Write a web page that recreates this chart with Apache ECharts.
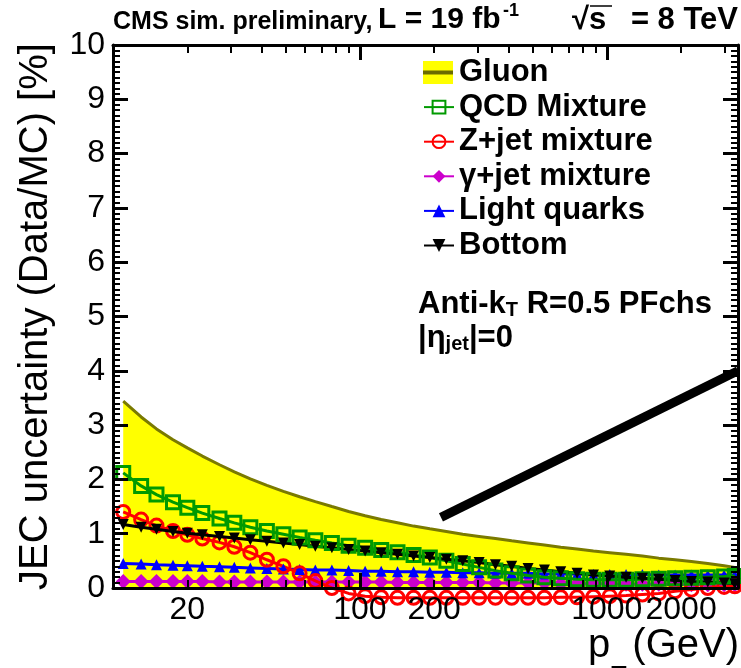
<!DOCTYPE html>
<html>
<head>
<meta charset="utf-8">
<script src="https://cdn.jsdelivr.net/npm/echarts@6/dist/echarts.min.js"></script>
<style>
  html, body { margin: 0; padding: 0; background: #fff; }
  #chart { width: 741px; height: 668px; }
</style>
</head>
<body>
<div id="chart"></div>
<script>
// Jet p_T bin centres (GeV)
const pT = [11, 13, 15, 17.5, 20, 23, 27, 31, 36, 42, 49, 57, 66, 77, 90, 105, 122, 142, 165, 192,
            224, 261, 304, 354, 412, 480, 559, 651, 758, 883, 1028, 1197, 1394, 1624, 1891, 2202, 2565, 2987, 3300];

// JEC uncertainty (Data/MC) in %, per flavour mixture
const gluon = [3.44, 3.15, 2.93, 2.73, 2.58, 2.43, 2.27, 2.14, 2.01, 1.89, 1.78, 1.68, 1.59, 1.50, 1.41, 1.33, 1.26, 1.20, 1.14, 1.09,
               1.04, 0.99, 0.95, 0.91, 0.87, 0.83, 0.79, 0.75, 0.72, 0.68, 0.65, 0.62, 0.59, 0.55, 0.52, 0.49, 0.45, 0.41, 0.38];
const qcdMixture = [2.12, 1.88, 1.72, 1.58, 1.48, 1.38, 1.28, 1.20, 1.12, 1.05, 0.99, 0.93, 0.88, 0.83, 0.78, 0.74, 0.70, 0.66, 0.61, 0.56,
                    0.50, 0.44, 0.38, 0.32, 0.27, 0.23, 0.20, 0.18, 0.16, 0.15, 0.15, 0.15, 0.16, 0.17, 0.18, 0.19, 0.20, 0.21, 0.22];
const zjetMixture = [1.40, 1.26, 1.15, 1.05, 0.98, 0.91, 0.84, 0.76, 0.65, 0.52, 0.40, 0.27, 0.13, 0.00, -0.10, -0.15, -0.17, -0.18, -0.18, -0.18,
                     -0.18, -0.18, -0.18, -0.18, -0.18, -0.18, -0.18, -0.17, -0.17, -0.16, -0.15, -0.14, -0.12, -0.10, -0.06, -0.03, 0.00, 0.02, 0.03];
const gammajetMixture = [0.12, 0.12, 0.12, 0.12, 0.12, 0.12, 0.11, 0.11, 0.11, 0.11, 0.11, 0.11, 0.11, 0.11, 0.11, 0.11, 0.11, 0.10, 0.10, 0.10,
                         0.10, 0.10, 0.10, 0.09, 0.09, 0.09, 0.09, 0.08, 0.08, 0.08, 0.08, 0.07, 0.07, 0.07, 0.07, 0.06, 0.06, 0.06, 0.06];
const lightQuarks = [0.45, 0.44, 0.43, 0.42, 0.41, 0.40, 0.39, 0.38, 0.37, 0.36, 0.35, 0.34, 0.33, 0.33, 0.32, 0.31, 0.31, 0.30, 0.30, 0.29,
                     0.29, 0.28, 0.28, 0.27, 0.27, 0.27, 0.26, 0.26, 0.26, 0.25, 0.25, 0.25, 0.25, 0.24, 0.24, 0.24, 0.24, 0.24, 0.24];
const bottom = [1.17, 1.12, 1.08, 1.04, 1.01, 0.98, 0.95, 0.92, 0.89, 0.86, 0.83, 0.80, 0.77, 0.74, 0.71, 0.68, 0.65, 0.62, 0.59, 0.56,
                0.53, 0.50, 0.47, 0.43, 0.40, 0.36, 0.33, 0.30, 0.27, 0.24, 0.22, 0.20, 0.18, 0.16, 0.14, 0.12, 0.11, 0.09, 0.08];

// Thick annotation stroke (p_T, uncertainty) end points
const strokeX = [213, 3400];
const strokeY = [1.3, 4.0];

// Axis ticks and labels
const xRange = [10, 3400];
const xLabelValues = [20, 100, 200, 1000, 2000];
const xMajorTicks = [100, 1000];
const xMinorTicks = [20, 30, 40, 50, 60, 70, 80, 90, 200, 300, 400, 500, 600, 700, 800, 900, 2000, 3000];
const yRange = [0, 10];

const FONT = "'Liberation Sans', Arial, Helvetica, sans-serif";
const pairs = vals => pT.map((x, i) => [x, vals[i]]);

const xCommon = { type: 'log', logBase: 10, min: xRange[0], max: xRange[1], splitLine: { show: false }, z: 5 };
const majorTick = { show: true, inside: true, length: 15, lineStyle: { color: '#000', width: 3 } };
const minorTickStyle = { show: true, inside: true, length: 8, lineStyle: { color: '#000', width: 2 } };

const xAxes = [
  Object.assign({}, xCommon, {
    position: 'bottom',
    axisLine: { show: true, lineStyle: { color: '#000', width: 3 } },
    axisTick: Object.assign({}, majorTick, { customValues: xMajorTicks }),
    axisLabel: {
      show: true, customValues: xLabelValues, interval: 0, hideOverlap: false,
      formatter: v => String(Math.round(v)),
      color: '#000', fontFamily: FONT, fontSize: 32, margin: 6
    }
  }),
  Object.assign({}, xCommon, {
    position: 'bottom',
    axisLine: { show: false },
    axisTick: Object.assign({}, minorTickStyle, { customValues: xMinorTicks }),
    axisLabel: { show: false }
  }),
  Object.assign({}, xCommon, {
    position: 'top',
    axisLine: { show: true, lineStyle: { color: '#000', width: 3 } },
    axisTick: Object.assign({}, majorTick, { customValues: xMajorTicks }),
    axisLabel: { show: false }
  }),
  Object.assign({}, xCommon, {
    position: 'top',
    axisLine: { show: false },
    axisTick: Object.assign({}, minorTickStyle, { customValues: xMinorTicks }),
    axisLabel: { show: false }
  })
];

const yCommon = {
  type: 'value', min: yRange[0], max: yRange[1], interval: 1, splitLine: { show: false }, z: 5,
  axisLine: { show: true, lineStyle: { color: '#000', width: 3 } },
  axisTick: majorTick,
  minorTick: { show: true, splitNumber: 10, length: 7, lineStyle: { color: '#000', width: 2 } },
  minorSplitLine: { show: false }
};
const yAxes = [
  Object.assign({}, yCommon, {
    position: 'left',
    name: 'JEC uncertainty (Data/MC) [%]',
    nameLocation: 'middle', nameRotate: 90, nameGap: 57, nameMoveOverlap: false,
    nameTextStyle: { color: '#000', fontFamily: FONT, fontSize: 40 },
    axisLabel: { color: '#000', fontFamily: FONT, fontSize: 32, margin: 8 }
  }),
  Object.assign({}, yCommon, { position: 'right', axisLabel: { show: false } })
];

const lineSeries = (name, vals, color, symbol, size, hollow, extra) => Object.assign({
  name, type: 'line', data: pairs(vals),
  symbol, symbolSize: size, showSymbol: true,
  lineStyle: { color, width: 3 },
  itemStyle: hollow ? { color: 'transparent', borderColor: color, borderWidth: 3 } : { color, borderWidth: 0 },
  emphasis: { disabled: true }
}, extra || {});

const chart = echarts.init(document.getElementById('chart'), null, { renderer: 'canvas' });
chart.setOption({
  animation: false,
  backgroundColor: '#fff',
  grid: { left: 113, right: 3, top: 45, bottom: 80, containLabel: false, outerBoundsMode: 'none' },
  xAxis: xAxes,
  yAxis: yAxes,
  legend: {
    orient: 'vertical', left: 423, top: 57, itemGap: 3.6, padding: 0,
    itemWidth: 30, itemHeight: 16,
    textStyle: { color: '#000', fontFamily: FONT, fontWeight: 'bold', fontSize: 31 },
    selectedMode: false,
    data: [
      { name: 'Gluon', icon: 'rect', itemStyle: { color: 'transparent', borderWidth: 0 } },
      'QCD Mixture', 'Z+jet mixture', 'γ+jet mixture', 'Light quarks', 'Bottom'
    ]
  },
  series: [
    {
      name: 'Gluon', type: 'line', data: pairs(gluon), showSymbol: false, z: 1,
      lineStyle: { color: '#7a7a00', width: 3 },
      itemStyle: { color: '#7a7a00' },
      areaStyle: { color: '#ffff00', opacity: 1, origin: 'start' },
      emphasis: { disabled: true }
    },
    lineSeries('γ+jet mixture', gammajetMixture, '#cc00cc', 'diamond', 15, false, { z: 2 }),
    lineSeries('Light quarks', lightQuarks, '#0000ff', 'triangle', 11, false, { z: 3 }),
    lineSeries('Z+jet mixture', zjetMixture, '#ff0000', 'circle', 13, true, { z: 3, clip: false }),
    lineSeries('QCD Mixture', qcdMixture, '#009a00', 'rect', 13, true, { z: 4 }),
    lineSeries('Bottom', bottom, '#000000', 'triangle', 11, false, { z: 4, symbolRotate: 180 }),
    {
      name: 'stroke', type: 'line', data: strokeX.map((x, i) => [x, strokeY[i]]),
      showSymbol: false, z: 6, lineStyle: { color: '#000', width: 9 }, emphasis: { disabled: true }
    }
  ],
  graphic: [
    // Gluon legend swatch: yellow band with the olive curve colour through it
    { type: 'rect', z: 100, shape: { x: 423, y: 61, width: 30, height: 23 }, style: { fill: '#ffff00' } },
    { type: 'line', z: 101, shape: { x1: 423, y1: 72.5, x2: 453, y2: 72.5 }, style: { stroke: '#6b6b00', lineWidth: 4 } },
    // Header
    { type: 'text', z: 100, style: { x: 113, y: 22, text: 'CMS sim. preliminary,', font: 'bold 25px ' + FONT, fill: '#000', textVerticalAlign: 'middle' } },
    { type: 'text', z: 100, style: { x: 378, y: 20, text: 'L = 19 fb', font: 'bold 30px ' + FONT, fill: '#000', textVerticalAlign: 'middle' } },
    { type: 'text', z: 100, style: { x: 503, y: 11, text: '-1', font: 'bold 18px ' + FONT, fill: '#000', textVerticalAlign: 'middle' } },
    { type: 'text', z: 100, style: { x: 572, y: 20, text: '√s', font: 'bold 31px ' + FONT, fill: '#000', textVerticalAlign: 'middle' } },
    { type: 'line', z: 100, shape: { x1: 590, y1: 6, x2: 612, y2: 6 }, style: { stroke: '#000', lineWidth: 1.5 } },
    { type: 'text', z: 100, style: { x: 738, y: 20, text: '= 8 TeV', font: 'bold 31px ' + FONT, fill: '#000', textVerticalAlign: 'middle', textAlign: 'right' } },
    // Jet definition
    {
      type: 'text', z: 100,
      style: {
        x: 418, y: 289,
        text: '{m|Anti-k}{s|T}{m| R=0.5 PFchs}',
        rich: {
          m: { font: 'bold 31px ' + FONT, lineHeight: 31, verticalAlign: 'top', fill: '#000' },
          s: { font: 'bold 20px ' + FONT, lineHeight: 20, verticalAlign: 'bottom', padding: [20, 0, 0, 0], fill: '#000' }
        }
      }
    },
    {
      type: 'text', z: 100,
      style: {
        x: 418, y: 323,
        text: '{m|\u007cη}{s|jet}{m|\u007c=0}',
        rich: {
          m: { font: 'bold 31px ' + FONT, lineHeight: 31, verticalAlign: 'top', fill: '#000' },
          s: { font: 'bold 20px ' + FONT, lineHeight: 20, verticalAlign: 'bottom', padding: [22, 0, 0, 0], fill: '#000' }
        }
      }
    },
    // x-axis title
    { type: 'text', z: 100, style: { x: 588, y: 646, text: 'p', font: '40px ' + FONT, fill: '#000', textVerticalAlign: 'middle' } },
    { type: 'text', z: 100, style: { x: 611, y: 664, text: 'T', font: '26px ' + FONT, fill: '#000', textVerticalAlign: 'top' } },
    { type: 'text', z: 100, style: { x: 739, y: 646, text: '(GeV)', font: '40px ' + FONT, fill: '#000', textVerticalAlign: 'middle', textAlign: 'right' } }
  ]
});
</script>
</body>
</html>
